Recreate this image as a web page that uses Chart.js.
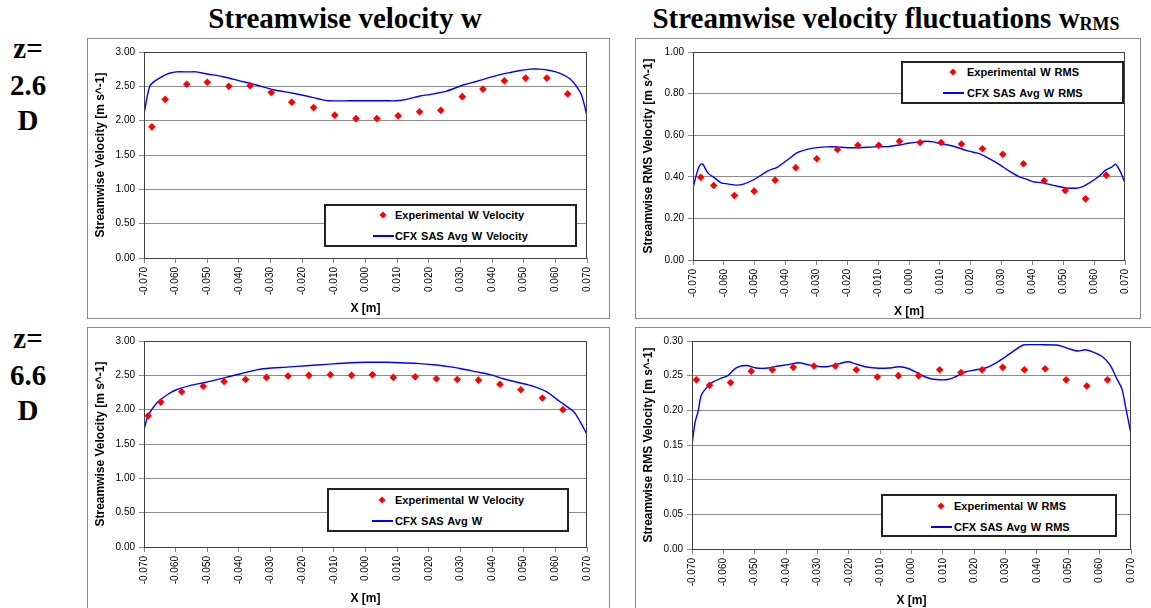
<!DOCTYPE html>
<html><head><meta charset="utf-8">
<script src="https://cdn.jsdelivr.net/npm/chart.js@4.4.1/dist/chart.umd.min.js"></script>
<style>
body{margin:0;width:1151px;height:608px;background:#fff;position:relative;overflow:hidden;font-family:"Liberation Sans",Arial,sans-serif;}
.serif{position:absolute;font-family:"Liberation Serif","Times New Roman",serif;font-weight:bold;font-size:29px;line-height:29px;white-space:nowrap;color:#000;}
.title{transform:translateX(-50%);}
.zl{width:56px;text-align:center;left:0;}
.frame{position:absolute;border:1px solid #8a8a8a;box-sizing:border-box;}
canvas{position:absolute;}
.legend{position:absolute;border:2px solid #222;background:#fff;box-sizing:border-box;}
.ltxt{position:absolute;font-weight:bold;font-size:11px;line-height:11px;white-space:nowrap;word-spacing:1px;color:#000;transform:translateY(-50%);}
.lmark{position:absolute;width:5px;height:5px;background:#f00;transform:translate(-50%,-50%) rotate(45deg);}
.lline{position:absolute;height:2px;background:#00f;transform:translateY(-50%);}
sub{font-size:18px;vertical-align:-2px;line-height:0;}
</style>
</head><body>
<div class="serif title" style="left:345px;top:4px;">Streamwise velocity w</div>
<div class="serif title" style="left:886px;top:4px;">Streamwise velocity fluctuations w<sub>RMS</sub></div>
<div class="serif zl" style="top:34px;">z=</div>
<div class="serif zl" style="top:71px;">2.6</div>
<div class="serif zl" style="top:106px;">D</div>
<div class="serif zl" style="top:324px;">z=</div>
<div class="serif zl" style="top:361px;">6.6</div>
<div class="serif zl" style="top:396px;">D</div>
<script>
// ---------- data ----------
const xTicks = [-0.07,-0.06,-0.05,-0.04,-0.03,-0.02,-0.01,0,0.01,0.02,0.03,0.04,0.05,0.06,0.07];
const yTicksVel = [0,0.5,1.0,1.5,2.0,2.5,3.0];
const yTicksRms1 = [0,0.2,0.4,0.6,0.8,1.0];
const yTicksRms2 = [0,0.05,0.10,0.15,0.20,0.25,0.30];

// top-left: z=2.6D velocity
const p1ExpX = [-0.0675,-0.0633,-0.0565,-0.0500,-0.0432,-0.0365,-0.0298,-0.0233,-0.0164,-0.0097,-0.0030,0.0036,0.0103,0.0171,0.0238,0.0306,0.0371,0.0439,0.0506,0.0573,0.0639];
const p1ExpY = [1.91,2.31,2.53,2.56,2.50,2.51,2.41,2.27,2.19,2.08,2.03,2.03,2.07,2.13,2.15,2.35,2.46,2.58,2.62,2.62,2.39];
const p1CfdX = [-0.0700,-0.0682,-0.0665,-0.0640,-0.0620,-0.0598,-0.0560,-0.0535,-0.0500,-0.0450,-0.0397,-0.0345,-0.0290,-0.0229,-0.0187,-0.0150,-0.0118,-0.0050,0.0003,0.0060,0.0098,0.0130,0.0172,0.0203,0.0256,0.0309,0.0350,0.0393,0.0425,0.0456,0.0490,0.0520,0.0551,0.0583,0.0615,0.0646,0.0667,0.0683,0.0700];
const p1CfdY = [2.10,2.50,2.58,2.65,2.69,2.71,2.71,2.71,2.68,2.64,2.58,2.52,2.45,2.40,2.36,2.32,2.29,2.29,2.29,2.29,2.29,2.31,2.36,2.38,2.43,2.52,2.57,2.63,2.67,2.70,2.73,2.75,2.75,2.73,2.69,2.61,2.50,2.37,2.07];

// top-right: z=2.6D RMS
const p2ExpX = [-0.0675,-0.0633,-0.0566,-0.0502,-0.0434,-0.0367,-0.0299,-0.0232,-0.0166,-0.0098,-0.0031,0.0036,0.0104,0.0170,0.0238,0.0304,0.0371,0.0438,0.0506,0.0572,0.0639];
const p2ExpY = [0.398,0.358,0.310,0.331,0.384,0.444,0.487,0.531,0.552,0.552,0.571,0.565,0.565,0.558,0.535,0.508,0.463,0.381,0.334,0.294,0.408];
const p2CfdX = [-0.0700,-0.0684,-0.0675,-0.0668,-0.0652,-0.0630,-0.0609,-0.0588,-0.0560,-0.0534,-0.0502,-0.0459,-0.0426,-0.0394,-0.0362,-0.0330,-0.0298,-0.0266,-0.0233,-0.0201,-0.0158,-0.0115,-0.0072,-0.0030,-0.0003,0.0030,0.0056,0.0078,0.0099,0.0142,0.0185,0.0206,0.0228,0.0260,0.0292,0.0325,0.0357,0.0378,0.0400,0.0432,0.0464,0.0507,0.0539,0.0561,0.0582,0.0614,0.0636,0.0657,0.0670,0.0684,0.0700];
const p2CfdY = [0.347,0.435,0.460,0.460,0.419,0.395,0.371,0.366,0.360,0.366,0.387,0.427,0.447,0.481,0.516,0.532,0.540,0.544,0.544,0.540,0.540,0.544,0.545,0.553,0.561,0.568,0.571,0.568,0.561,0.548,0.527,0.519,0.511,0.487,0.460,0.427,0.400,0.390,0.377,0.371,0.360,0.347,0.345,0.352,0.368,0.400,0.431,0.447,0.460,0.427,0.371];

// bottom-left: z=6.6D velocity
const p3ExpX = [-0.0687,-0.0647,-0.0581,-0.0513,-0.0447,-0.0379,-0.0313,-0.0245,-0.0179,-0.0111,-0.0044,0.0022,0.0088,0.0157,0.0224,0.0290,0.0357,0.0425,0.0491,0.0559,0.0624];
const p3ExpY = [1.91,2.11,2.26,2.34,2.41,2.44,2.47,2.49,2.50,2.51,2.50,2.51,2.47,2.48,2.45,2.44,2.43,2.37,2.29,2.17,2.00];
const p3CfdX = [-0.0700,-0.0687,-0.0661,-0.0629,-0.0598,-0.0555,-0.0503,-0.0450,-0.0397,-0.0344,-0.0313,-0.0249,-0.0186,-0.0123,-0.0060,0.0004,0.0067,0.0130,0.0172,0.0225,0.0257,0.0299,0.0352,0.0394,0.0436,0.0479,0.0531,0.0573,0.0605,0.0626,0.0658,0.0679,0.0700];
const p3CfdY = [1.71,1.91,2.09,2.21,2.29,2.35,2.40,2.46,2.52,2.58,2.60,2.62,2.64,2.66,2.68,2.69,2.69,2.68,2.67,2.65,2.63,2.60,2.55,2.51,2.45,2.40,2.34,2.26,2.15,2.08,1.97,1.82,1.64];

// bottom-right: z=6.6D RMS
const p4ExpX = [-0.0686,-0.0644,-0.0577,-0.0511,-0.0444,-0.0377,-0.0311,-0.0243,-0.0176,-0.0109,-0.0042,0.0023,0.0090,0.0158,0.0225,0.0291,0.0360,0.0426,0.0493,0.0559,0.0625];
const p4ExpY = [0.244,0.236,0.240,0.2565,0.2585,0.262,0.264,0.264,0.2585,0.248,0.250,0.250,0.2585,0.2546,0.2585,0.262,0.2585,0.260,0.244,0.235,0.244];
const p4CfdX = [-0.0700,-0.0690,-0.0680,-0.0671,-0.0655,-0.0634,-0.0607,-0.0586,-0.0559,-0.0527,-0.0495,-0.0457,-0.0425,-0.0393,-0.0361,-0.0329,-0.0297,-0.0265,-0.0233,-0.0201,-0.0179,-0.0147,-0.0115,-0.0072,-0.0040,-0.0008,0.0024,0.0051,0.0078,0.0115,0.0142,0.0174,0.0206,0.0238,0.0270,0.0297,0.0324,0.0356,0.0377,0.0410,0.0463,0.0484,0.0505,0.0532,0.0554,0.0580,0.0612,0.0634,0.0655,0.0671,0.0682,0.0700];
const p4CfdY = [0.151,0.183,0.1995,0.221,0.232,0.2406,0.2464,0.250,0.2614,0.2647,0.261,0.261,0.264,0.266,0.2686,0.2657,0.2633,0.2633,0.267,0.270,0.267,0.2628,0.261,0.261,0.2628,0.260,0.2527,0.247,0.2444,0.2444,0.2488,0.2556,0.2585,0.2614,0.2686,0.2763,0.285,0.2942,0.2947,0.2947,0.2942,0.2918,0.2884,0.2855,0.2874,0.284,0.2763,0.2647,0.2454,0.231,0.2068,0.1657];

const legendVel1 = ['Experimental W  Velocity','CFX SAS Avg W  Velocity'];
const legendRms = ['Experimental W  RMS','CFX SAS Avg W  RMS'];
const legendVel2 = ['Experimental W  Velocity','CFX SAS Avg W'];
const yTitleVel = 'Streamwise Velocity [m s^-1]';
const yTitleRms = 'Streamwise RMS Velocity [m s^-1]';
const xTitle = 'X [m]';

// ---------- drawing ----------
const FAM = '"Liberation Sans", Arial, sans-serif';
Chart.defaults.font.family = FAM;

const borderPlugin = {
  id:'areaBorder',
  afterDatasetsDraw(chart){
    const a = chart.chartArea, c = chart.ctx;
    c.save(); c.strokeStyle = '#404040'; c.lineWidth = 1;
    c.strokeRect(Math.round(a.left)+0.5, Math.round(a.top)+0.5, Math.round(a.right-a.left)-1, Math.round(a.bottom-a.top));
    c.restore();
  }
};

function fmt3(v){ return Math.abs(v) < 1e-9 ? '0.000' : v.toFixed(3); }

function makePanel(cfg){
  const fr = document.createElement('div');
  fr.className = 'frame';
  Object.assign(fr.style,{left:cfg.frame[0]+'px',top:cfg.frame[1]+'px',width:cfg.frame[2]+'px',height:cfg.frame[3]+'px'});
  const cv = document.createElement('canvas');
  cv.width = cfg.canvas[2]; cv.height = cfg.canvas[3];
  Object.assign(cv.style,{left:cfg.canvas[0]+'px',top:cfg.canvas[1]+'px',width:cfg.canvas[2]+'px',height:cfg.canvas[3]+'px'});
  document.body.appendChild(cv);
  document.body.appendChild(fr);
  const [cx,cy,cw,ch] = cfg.canvas;
  const [al,at,ar,ab] = cfg.area;
  const yw = al - cx, xh = (cy+ch) - ab;
  const exp = cfg.expX.map((x,i)=>({x, y:cfg.expY[i]}));
  const cfd = cfg.cfdX.map((x,i)=>({x, y:cfg.cfdY[i]}));
  new Chart(cv, {
    type:'scatter',
    data:{datasets:[
      {label:cfg.legend[1], data:cfd, showLine:true, borderColor:'#0000ff', borderWidth:1.4, pointRadius:0, tension:0.3, order:2},
      {label:cfg.legend[0], data:exp, pointStyle:'rectRot', pointRadius:3.8, backgroundColor:'#ff0000', borderColor:'#ff0000', borderWidth:0, order:1}
    ]},
    options:{
      responsive:false, animation:false, devicePixelRatio:1,
      layout:{padding:{left:0, bottom:0, top:at-cy, right:(cx+cw)-ar}},
      plugins:{legend:{display:false}, tooltip:{enabled:false}},
      scales:{
        x:{type:'linear', min:xTicks[0], max:xTicks[xTicks.length-1],
          afterFit:s=>{s.height = xh;},
          afterBuildTicks:s=>{s.ticks = xTicks.map(v=>({value:v}));},
          ticks:{autoSkip:false, minRotation:90, maxRotation:90, padding:4, color:'#000', font:{size:10}, callback:v=>fmt3(v)},
          grid:{drawOnChartArea:false, drawTicks:true, tickLength:5, color:'#888'},
          border:{color:'#888'},
          title:{display:true, text:xTitle, color:'#000', font:{size:12, weight:'bold', lineHeight:1}, padding:{top:0, bottom:cfg.xtPad}}
        },
        y:{min:cfg.yTicks[0], max:cfg.yTicks[cfg.yTicks.length-1],
          afterFit:s=>{s.width = yw;},
          afterBuildTicks:s=>{s.ticks = cfg.yTicks.map(v=>({value:v}));},
          ticks:{padding:4, color:'#000', font:{size:10}, callback:v=>v.toFixed(2)},
          grid:{color:'#8c8c8c', tickLength:5, lineWidth:1},
          border:{color:'#888'},
          title:{display:true, text:cfg.yTitle, color:'#000', font:{size:12, weight:'bold', lineHeight:1}, padding:{top:cfg.ytPad, bottom:0}}
        }
      }
    },
    plugins:[borderPlugin]
  });
  // legend
  const L = cfg.leg;
  const lb = document.createElement('div');
  lb.className = 'legend';
  Object.assign(lb.style,{left:L.box[0]+'px',top:L.box[1]+'px',width:(L.box[2]-L.box[0])+'px',height:(L.box[3]-L.box[1])+'px'});
  document.body.appendChild(lb);
  const m = document.createElement('div'); m.className='lmark';
  Object.assign(m.style,{left:L.mx+'px',top:L.r1+'px'}); document.body.appendChild(m);
  const ln = document.createElement('div'); ln.className='lline';
  Object.assign(ln.style,{left:(L.mx-10)+'px',top:L.r2+'px',width:'21px'}); document.body.appendChild(ln);
  [[cfg.legend[0],L.r1],[cfg.legend[1],L.r2]].forEach(([t,y])=>{
    const s = document.createElement('div'); s.className='ltxt'; s.textContent=t;
    Object.assign(s.style,{left:L.tx+'px',top:y+'px'}); document.body.appendChild(s);
  });
}

makePanel({frame:[87,38,523,281], canvas:[87,38,523,281], area:[144,52,587,258], yTicks:yTicksVel, yTitle:yTitleVel,
  expX:p1ExpX, expY:p1ExpY, cfdX:p1CfdX, cfdY:p1CfdY, legend:legendVel1, ytPad:8, xtPad:4,
  leg:{box:[324,204,577,247], mx:383, tx:395, r1:215, r2:236}});
makePanel({frame:[635,38,506,281], canvas:[635,38,506,281], area:[693,52,1131,260], yTicks:yTicksRms1, yTitle:yTitleRms,
  expX:p2ExpX, expY:p2ExpY, cfdX:p2CfdX, cfdY:p2CfdY, legend:legendRms, ytPad:8, xtPad:1,
  leg:{box:[901,61,1124,104], mx:953, tx:967, r1:72, r2:93}});
makePanel({frame:[87,327,523,300], canvas:[87,327,523,281], area:[144,341,587,547], yTicks:yTicksVel, yTitle:yTitleVel,
  expX:p3ExpX, expY:p3ExpY, cfdX:p3CfdX, cfdY:p3CfdY, legend:legendVel2, ytPad:8, xtPad:3,
  leg:{box:[327,488,569,532], mx:382, tx:395, r1:500, r2:521}});
makePanel({frame:[635,327,540,300], canvas:[635,327,516,281], area:[692,341,1131,549], yTicks:yTicksRms2, yTitle:yTitleRms,
  expX:p4ExpX, expY:p4ExpY, cfdX:p4CfdX, cfdY:p4CfdY, legend:legendRms, ytPad:8, xtPad:1,
  leg:{box:[881,494,1117,537], mx:941, tx:954, r1:506, r2:527}});
</script>
</body></html>
